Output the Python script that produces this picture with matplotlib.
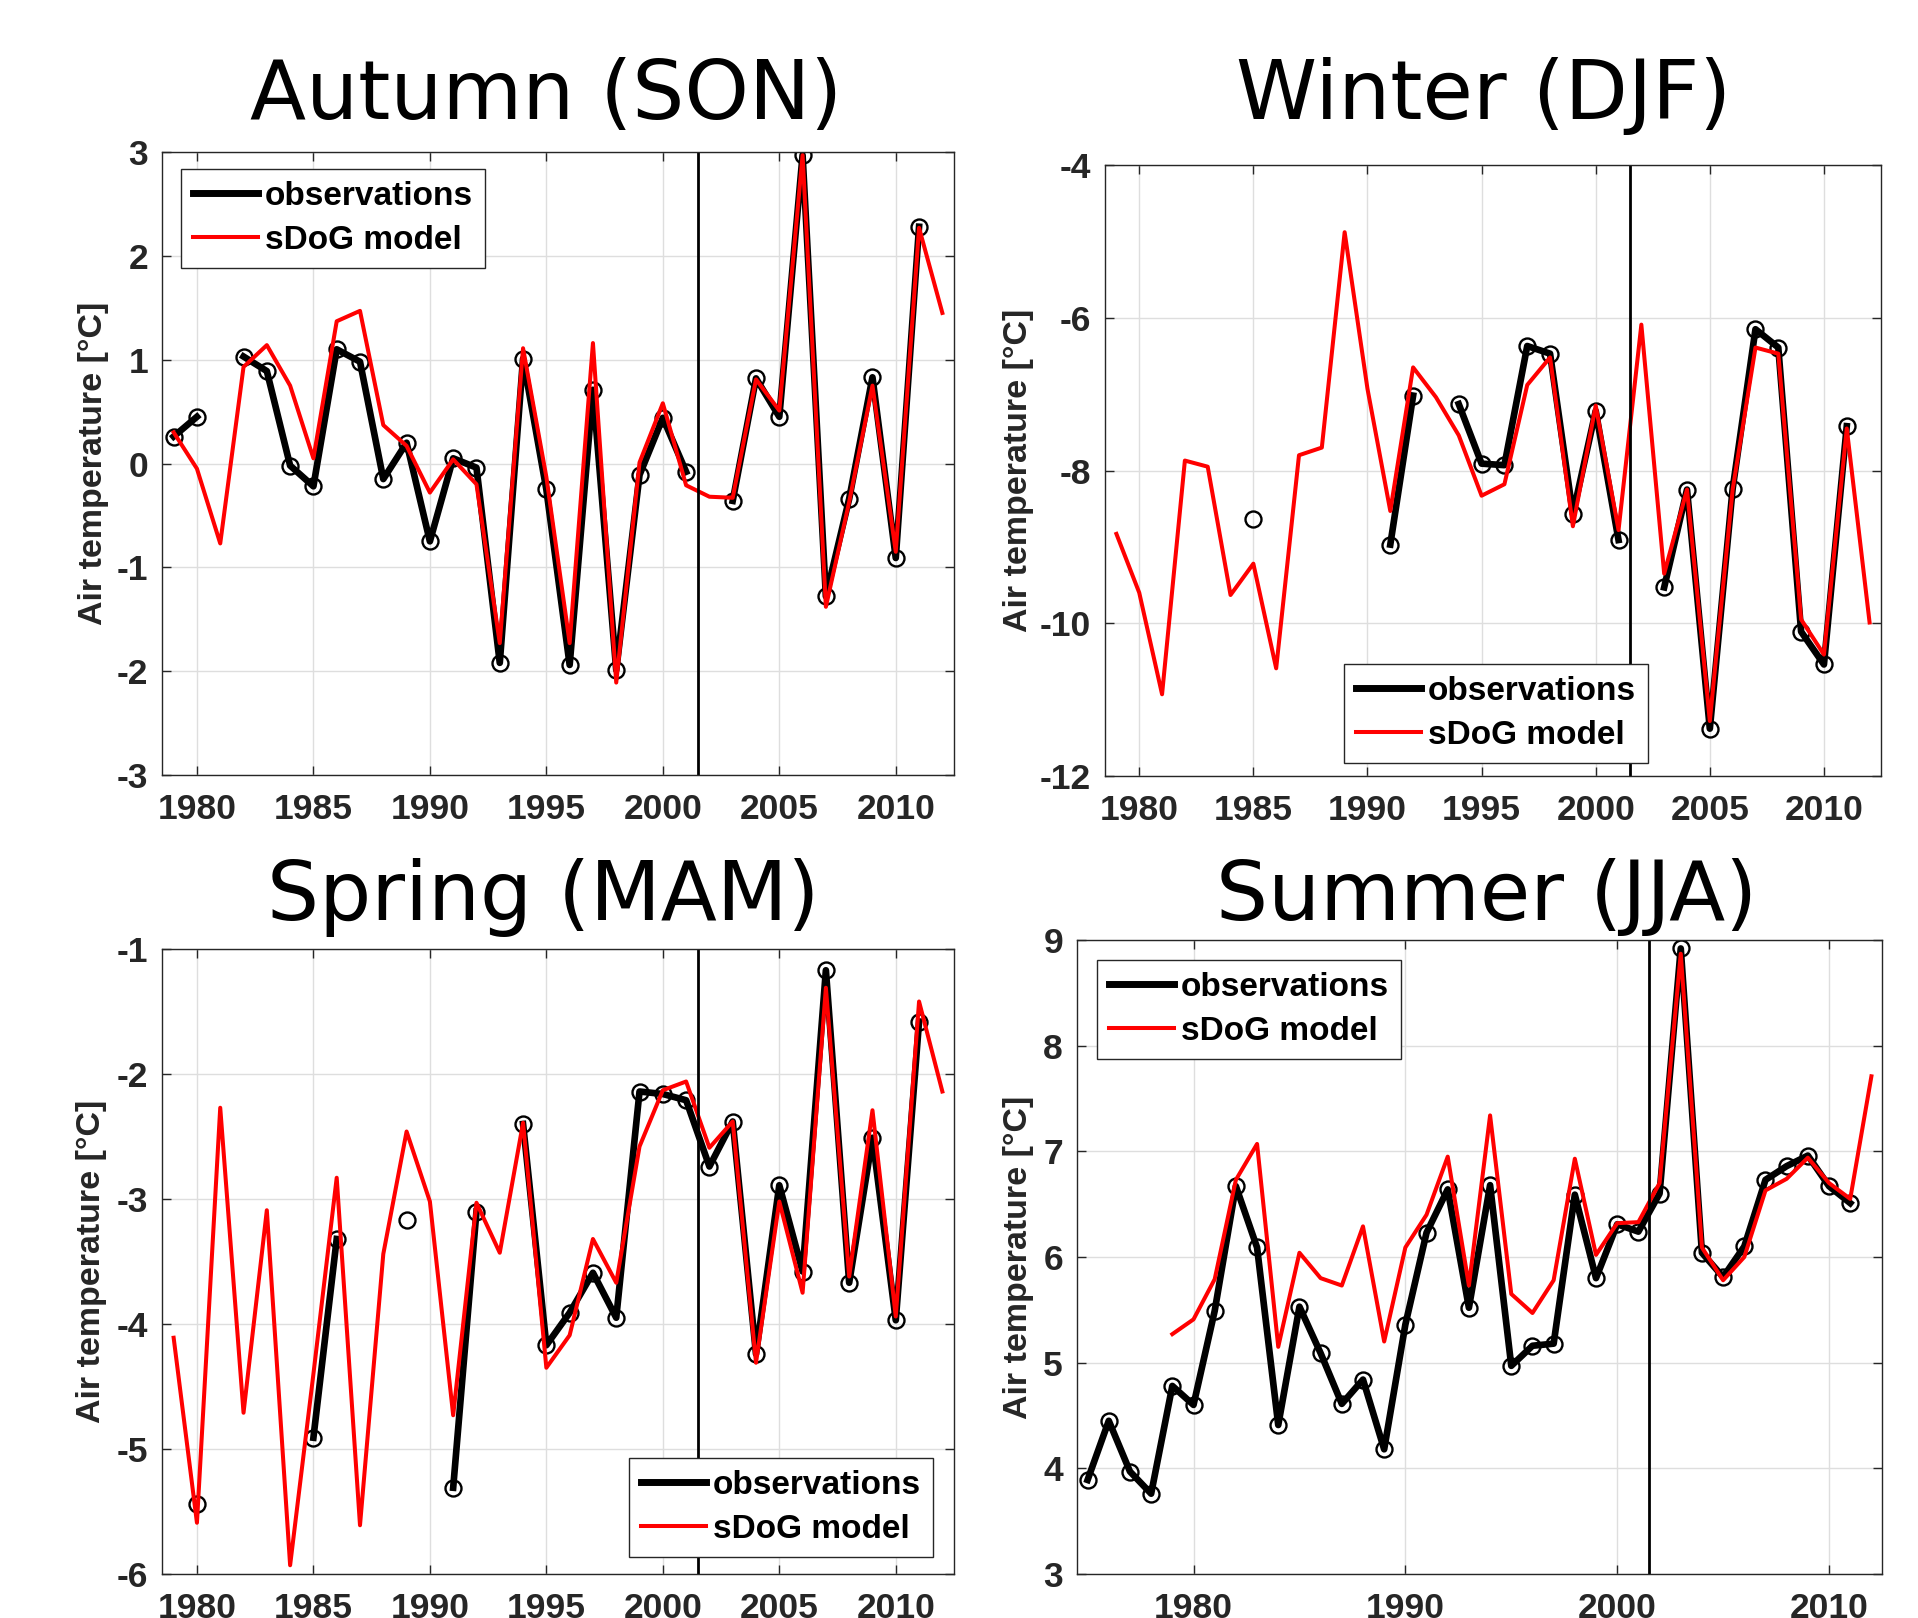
import matplotlib
matplotlib.use("Agg")
import matplotlib.pyplot as plt
from matplotlib.lines import Line2D
import numpy as np

plt.rcParams["axes.unicode_minus"] = False
nan = np.nan

# ---- data ----
years = np.arange(1979, 2013)
years_jja = np.arange(1975, 2013)

son_obs = [0.26, 0.45, nan, 1.03, 0.89, -0.02, -0.22, 1.10, 0.98, -0.15, 0.20, -0.75,
           0.05, -0.04, -1.92, 1.01, -0.25, -1.94, 0.71, -1.99, -0.11, 0.44, -0.08, nan,
           -0.36, 0.82, 0.45, 2.97, -1.28, -0.34, 0.83, -0.91, 2.28, nan]
son_mod = [0.30, -0.05, -0.77, 0.93, 1.14, 0.75, 0.05, 1.37, 1.47, 0.37, 0.17, -0.28,
           0.04, -0.20, -1.73, 1.11, -0.13, -1.73, 1.16, -2.11, 0.01, 0.58, -0.21, -0.32,
           -0.33, 0.81, 0.51, 2.97, -1.38, -0.37, 0.75, -0.85, 2.27, 1.45]

djf_obs = [nan, nan, nan, nan, nan, nan, -8.63, nan, nan, nan, nan, nan,
           -8.97, -7.02, nan, -7.13, -7.91, -7.93, -6.37, -6.47, -8.57, -7.22, -8.91, nan,
           -9.53, -8.25, -11.38, -8.24, -6.15, -6.39, -10.11, -10.54, -7.42, nan]
djf_mod = [-8.83, -9.60, -10.93, -7.87, -7.95, -9.63, -9.22, -10.59, -7.80, -7.70, -4.88, -6.93,
           -8.53, -6.65, -7.04, -7.54, -8.33, -8.18, -6.88, -6.52, -8.73, -7.15, -8.78, -6.09,
           -9.35, -8.25, -11.28, -8.25, -6.39, -6.47, -9.95, -10.41, -7.45, -9.99]

mam_obs = [nan, -5.44, nan, nan, nan, nan, -4.91, -3.32, nan, nan, -3.17, nan,
           -5.31, -3.10, nan, -2.40, -4.17, -3.91, -3.59, -3.95, -2.14, -2.16, -2.21, -2.74,
           -2.38, -4.24, -2.89, -3.58, -1.17, -3.67, -2.51, -3.97, -1.58, nan]
mam_mod = [-4.11, -5.59, -2.27, -4.71, -3.09, -5.93, -4.40, -2.83, -5.61, -3.44, -2.46, -3.02,
           -4.73, -3.03, -3.43, -2.39, -4.35, -4.09, -3.32, -3.67, -2.58, -2.13, -2.06, -2.59,
           -2.38, -4.31, -3.02, -3.75, -1.31, -3.62, -2.29, -3.94, -1.42, -2.14]

jja_obs = [3.89, 4.45, 3.97, 3.76, 4.78, 4.60, 5.49, 6.67, 6.09, 4.41,
           5.53, 5.09, 4.61, 4.84, 4.18, 5.36, 6.23, 6.64, 5.52, 6.68,
           4.97, 5.16, 5.18, 6.59, 5.80, 6.31, 6.24, 6.60, 8.92, 6.04,
           5.81, 6.10, 6.73, 6.86, 6.96, 6.67, 6.51, nan]
jja_mod = [nan, nan, nan, nan, 5.27, 5.41, 5.79, 6.73, 7.07, 5.15,
           6.04, 5.80, 5.73, 6.29, 5.20, 6.09, 6.40, 6.95, 5.73, 7.34,
           5.65, 5.47, 5.78, 6.93, 6.02, 6.32, 6.33, 6.70, 8.87, 6.09,
           5.78, 6.00, 6.63, 6.74, 6.94, 6.70, 6.55, 7.71]

split_year = 2001.5
gray = "#262626"
W, H = 1918, 1618

fig = plt.figure(figsize=(W / 100, H / 100), dpi=100)


def panel(rect_px, title, title_xy, x, obs, mod, xlim, ylim, yticks, xticks,
          ylab_x, leg_xy):
    l, t, r, b = rect_px
    ax = fig.add_axes([l / W, 1 - b / H, (r - l) / W, (b - t) / H])
    ax.plot(x, obs, "-o", color="k", lw=4.8, ms=11.5, mfc="none", mec="k", mew=1.7)
    ax.plot(x, mod, "-", color="red", lw=2.9)
    ax.axvline(split_year, color="k", lw=2.0)
    ax.set_xlim(xlim)
    ax.set_ylim(ylim)
    ax.set_xticks(xticks)
    ax.set_yticks(yticks)
    ax.grid(True, color="#dedede", lw=1.0)
    ax.set_axisbelow(True)
    ax.tick_params(direction="in", length=6.5, width=1.0, colors=gray,
                   top=True, right=True, labelsize=25.5)
    ax.tick_params(axis="x", pad=13)
    ax.tick_params(axis="y", pad=10)
    for lab in ax.get_xticklabels() + ax.get_yticklabels():
        lab.set_fontfamily("Liberation Sans")
        lab.set_fontweight("bold")
    for sp in ax.spines.values():
        sp.set_color(gray)
        sp.set_linewidth(1.0)
    fig.text(title_xy[0] / W, 1 - title_xy[1] / H, title, fontsize=59,
             family="DejaVu Sans", ha="center", va="baseline")
    yc = (t + b) / 2
    fig.text(ylab_x / W, 1 - yc / H, "Air temperature [°C]", rotation=90,
             fontsize=24.5, fontweight="bold", family="Liberation Sans",
             color=gray, ha="center", va="center")
    handles = [Line2D([], [], color="k", lw=5.0), Line2D([], [], color="red", lw=2.9)]
    leg = ax.legend(handles, ["observations", "sDoG model"], loc="upper left",
                    bbox_to_anchor=(leg_xy[0] / W, 1 - leg_xy[1] / H),
                    bbox_transform=fig.transFigure, borderaxespad=0,
                    prop={"family": "Liberation Sans", "weight": "bold", "size": 24},
                    handlelength=1.95, handletextpad=0.2, labelspacing=0.38,
                    borderpad=0.36, fancybox=False, framealpha=1, edgecolor=gray)
    leg.get_frame().set_linewidth(1.0)
    return ax


panel((162, 152, 954, 775), "Autumn (SON)", (546, 119), years, son_obs, son_mod,
      (1978.5, 2012.5), (-3, 3), np.arange(-3, 4, 1), np.arange(1980, 2011, 5),
      94, (181, 169))
panel((1105, 165, 1881, 776), "Winter (DJF)", (1484, 119), years, djf_obs, djf_mod,
      (1978.5, 2012.5), (-12, -4), np.arange(-12, -3, 2), np.arange(1980, 2011, 5),
      1019, (1344, 664))
panel((162, 949, 954, 1574), "Spring (MAM)", (543, 920), years, mam_obs, mam_mod,
      (1978.5, 2012.5), (-6, -1), np.arange(-6, 0, 1), np.arange(1980, 2011, 5),
      92, (629, 1458))
panel((1077, 940, 1882, 1574), "Summer (JJA)", (1487, 920), years_jja, jja_obs, jja_mod,
      (1974.5, 2012.5), (3, 9), np.arange(3, 10, 1), np.arange(1980, 2011, 10),
      1018, (1097, 960))

fig.savefig("out.png", dpi=100)
